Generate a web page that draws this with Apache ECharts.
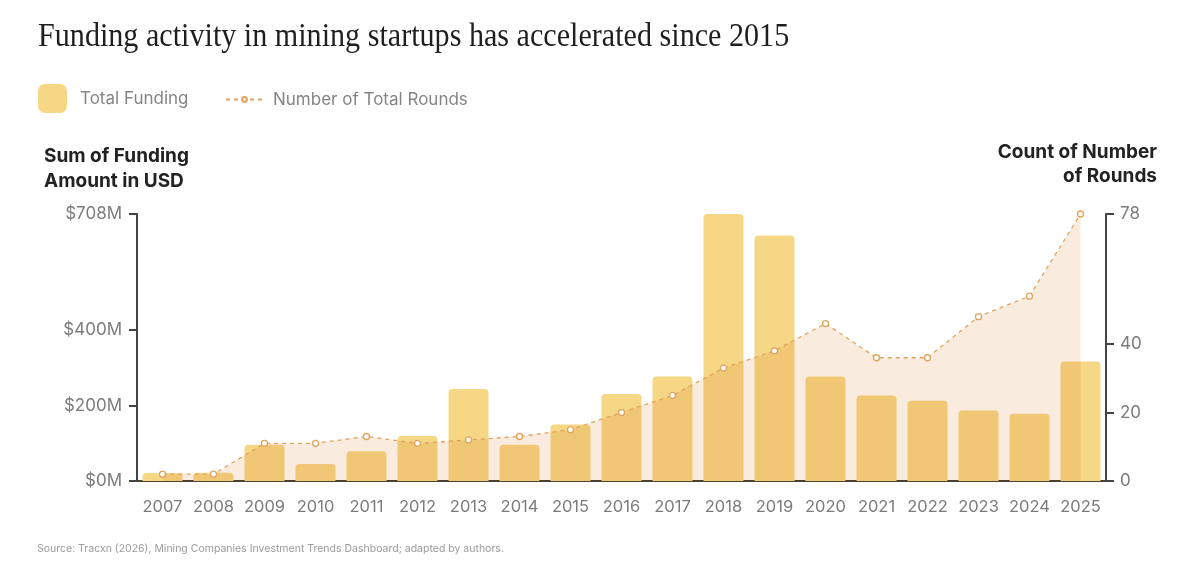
<!DOCTYPE html>
<html>
<head>
<meta charset="utf-8">
<script src="https://cdn.jsdelivr.net/npm/echarts@6/dist/echarts.min.js"></script>
<style>
  html, body { margin: 0; padding: 0; background: #fff; }
  #chart { width: 1200px; height: 565px; }
</style>
</head>
<body>
<div id="chart"></div>
<script>
// data
const years = ['2007', '2008', '2009', '2010', '2011', '2012', '2013', '2014', '2015', '2016',
  '2017', '2018', '2019', '2020', '2021', '2022', '2023', '2024', '2025']
// total funding, millions USD
const funding = [21, 22, 96, 45, 79, 119, 244, 96, 150, 231, 277, 708, 651, 277, 227, 213, 187, 178, 317]
// number of rounds
const rounds = [2, 2, 11, 11, 13, 11, 12, 13, 15, 20, 25, 33, 38, 46, 36, 36, 48, 54, 78]

const fundingTicks = [0, 200, 400, 708]
const roundTicks = [0, 20, 40, 78]

const sans = 'Inter, "Noto Sans", sans-serif'
const chart = echarts.init(document.getElementById('chart'), null, { renderer: 'canvas' })

const option = {
  animation: false,
  backgroundColor: '#fff',
  grid: { left: 137, right: 94, top: 214, bottom: 84 },
  legend: [
    {
      left: 38, top: 84, padding: 0,
      itemWidth: 29, itemHeight: 29, itemGap: 0,
      data: [{ name: 'Total Funding', icon: 'roundRect' }],
      textStyle: { color: '#858585', fontSize: 17, fontFamily: sans, padding: [0, 0, 0, 8] },
      selectedMode: false,
    },
    {
      left: 225, top: 91, padding: 0,
      itemWidth: 37, itemHeight: 6, itemGap: 0,
      data: ['Number of Total Rounds'],
      textStyle: { color: '#858585', fontSize: 17, fontFamily: sans, padding: [0, 0, 0, 5] },
      selectedMode: false,
    },
  ],
  xAxis: {
    type: 'category',
    data: years,
    boundaryGap: true,
    axisLine: { lineStyle: { color: '#4a4436', width: 2 } },
    axisTick: { show: false },
    axisLabel: { interval: 0, color: '#7c7c7c', fontSize: 16.5, fontFamily: sans, margin: 18 },
  },
  yAxis: [
    {
      type: 'value',
      min: 0, max: 708,
      position: 'left',
      splitLine: { show: false },
      axisLine: { show: true, lineStyle: { color: '#444', width: 2 } },
      axisTick: { show: true, length: 8, lineStyle: { color: '#444', width: 2 }, customValues: fundingTicks },
      axisLabel: {
        color: '#7c7c7c', fontSize: 17, fontFamily: sans, margin: 15,
        customValues: fundingTicks,
        formatter: v => '$' + v + 'M',
      },
    },
    {
      type: 'value',
      min: 0, max: 78,
      position: 'right',
      splitLine: { show: false },
      axisLine: { show: true, lineStyle: { color: '#444', width: 2 } },
      axisTick: { show: true, length: 8, lineStyle: { color: '#444', width: 2 }, customValues: roundTicks },
      axisLabel: {
        color: '#7c7c7c', fontSize: 17, fontFamily: sans, margin: 14,
        customValues: roundTicks,
      },
    },
  ],
  series: [
    {
      name: 'Total Funding',
      type: 'bar',
      data: funding,
      barWidth: 40,
      clip: false,
      itemStyle: { color: '#f6d785', borderRadius: [4, 4, 0, 0] },
    },
    {
      name: 'Number of Total Rounds',
      type: 'line',
      yAxisIndex: 1,
      data: rounds,
      symbol: 'circle',
      symbolSize: 6,
      showAllSymbol: true,
      itemStyle: { color: '#fff', borderColor: '#e0a45e', borderWidth: 1.3 },
      lineStyle: { color: '#e0a45e', width: 1.3, type: [4, 4] },
      areaStyle: { color: 'rgba(236,192,142,0.42)' },
      z: 3,
    },
  ],
  graphic: [
    {
      type: 'text', x: 38, y: 20,
      style: {
        text: 'Funding activity in mining startups has accelerated since 2015',
        fill: '#1f1f1f', font: '34px "Liberation Serif", serif',
      },
      scaleX: 0.886,
    },
    {
      type: 'text', x: 44, y: 144,
      style: {
        text: 'Sum of Funding\nAmount in USD',
        fill: '#222', font: 'bold 19px ' + sans, lineHeight: 25,
      },
    },
    {
      type: 'text', x: 1157, y: 140,
      style: {
        text: 'Count of Number\nof Rounds',
        fill: '#222', font: 'bold 19px ' + sans, lineHeight: 24, align: 'right',
      },
    },
    {
      type: 'text', x: 37, y: 543,
      style: {
        text: 'Source: Tracxn (2026), Mining Companies Investment Trends Dashboard; adapted by authors.',
        fill: '#9a9a9a', font: '10.5px ' + sans,
      },
    },
  ],
}

chart.setOption(option)

// the area fill darkens the bars underneath like a multiply blend
try {
  chart.getZr().storage.getDisplayList(true).forEach(el => {
    if (el.type === 'ec-polygon') {
      el.style.blend = 'multiply'
      el.dirty()
    }
  })
  chart.getZr().refresh()
} catch (e) {}
</script>
</body>
</html>
